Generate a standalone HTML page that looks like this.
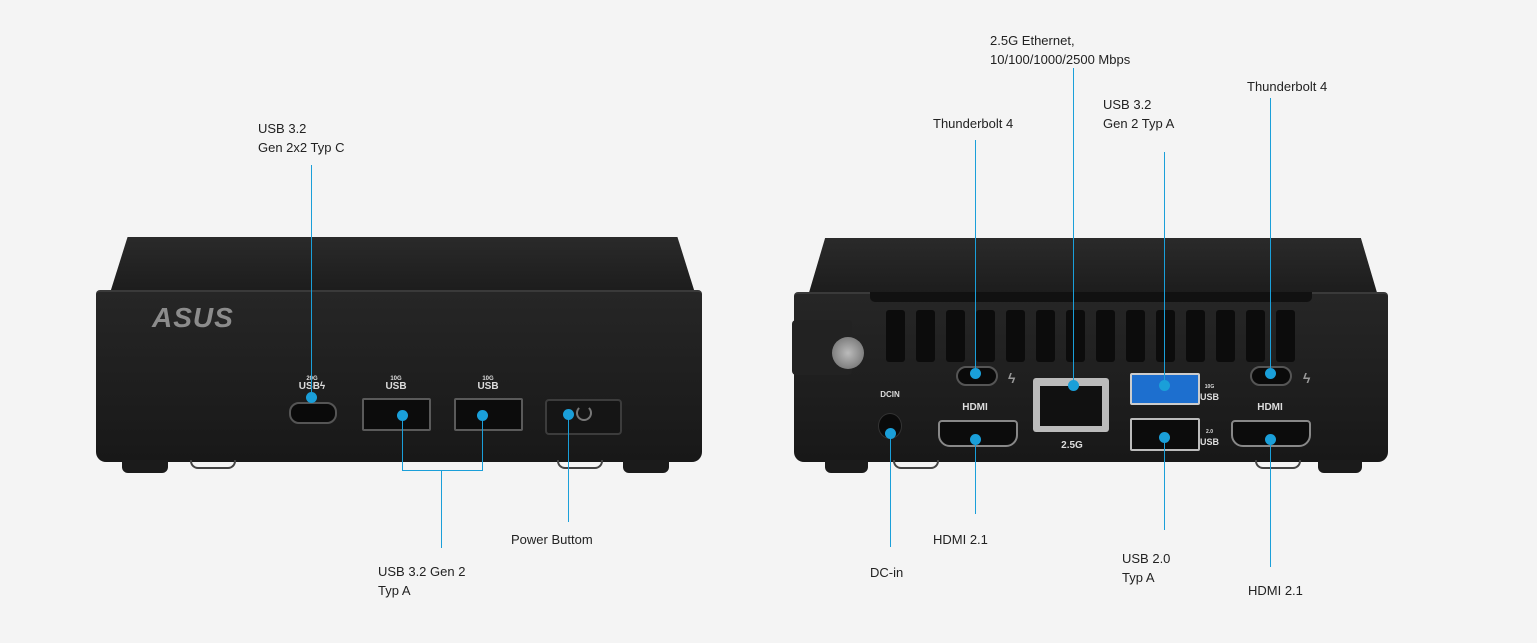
<!DOCTYPE html>
<html><head><meta charset="utf-8"><style>
body{margin:0;width:1537px;height:643px;background:#f4f4f4;position:relative;overflow:hidden;font-family:"Liberation Sans",sans-serif}
.a{position:absolute}
.t{position:absolute;font-size:13px;line-height:19px;color:#222}
.v{position:absolute;width:1px;background:#1a9fd9}
.h{position:absolute;height:1px;background:#1a9fd9}
.d{position:absolute;width:11px;height:11px;border-radius:50%;background:#1a9fd9;margin:-5px 0 0 -5px}
.top{position:absolute;background:linear-gradient(#2a2a2a,#1c1c1c);border-radius:14px 14px 0 0}
.face{position:absolute;background:linear-gradient(#262626,#181818);border-radius:4px 4px 10px 10px;border-top:2px solid #3a3a3a}
.foot{position:absolute;background:#1b1b1b;border-radius:0 0 6px 6px}
.loop{position:absolute;border:2px solid #444;border-top:none;border-radius:0 0 8px 8px}
.pc{position:absolute;border:2px solid #555;border-radius:10px;background:#0a0a0a}
.pa{position:absolute;border:2px solid #5a5a5a;background:#0c0c0c;border-radius:2px}
.lab{position:absolute;color:#ddd;font-weight:bold;font-size:10px;text-align:center}
.vent{position:absolute;width:19px;height:52px;background:#0c0c0c;border-radius:3px;top:310px}
</style></head><body>

<!-- FRONT DEVICE -->
<div class="top a" style="left:110px;top:237px;width:585px;height:56px;clip-path:polygon(3% 0,97% 0,100% 100%,0 100%)"></div>
<div class="face" style="left:96px;top:290px;width:606px;height:170px"></div>
<div class="foot" style="left:122px;top:460px;width:46px;height:13px"></div>
<div class="foot" style="left:623px;top:460px;width:46px;height:13px"></div>
<div class="loop" style="left:190px;top:460px;width:42px;height:7px"></div>
<div class="loop" style="left:557px;top:460px;width:42px;height:7px"></div>
<div class="a" style="left:152px;top:302px;font-size:28px;font-weight:bold;font-style:italic;color:#8c8c8c;letter-spacing:1px">ASUS</div>
<div class="lab" style="left:295px;top:376px;width:34px;font-size:6px;line-height:7px">20G<br><span style="font-size:10px">USBϟ</span></div>
<div class="pc" style="left:289px;top:402px;width:44px;height:18px"></div>
<div class="lab" style="left:378px;top:376px;width:36px;font-size:6px;line-height:7px">10G<br><span style="font-size:10px">USB</span></div>
<div class="lab" style="left:470px;top:376px;width:36px;font-size:6px;line-height:7px">10G<br><span style="font-size:10px">USB</span></div>
<div class="pa" style="left:362px;top:398px;width:65px;height:29px"></div>
<div class="pa" style="left:454px;top:398px;width:65px;height:29px"></div>
<div class="a" style="left:545px;top:399px;width:73px;height:32px;border:2px solid #3c3c3c;border-radius:4px;background:#151515"></div>
<div class="a" style="left:576px;top:405px;width:12px;height:12px;border:2px solid #777;border-radius:50%;border-top-color:transparent"></div>

<div class="t" style="left:258px;top:119px">USB 3.2<br>Gen 2x2 Typ C</div>
<div class="v" style="left:311px;top:165px;height:232px"></div><div class="d" style="left:311px;top:397px"></div>
<div class="d" style="left:402px;top:415px"></div><div class="d" style="left:482px;top:415px"></div>
<div class="v" style="left:402px;top:415px;height:56px"></div><div class="v" style="left:482px;top:415px;height:56px"></div>
<div class="h" style="left:402px;top:470px;width:81px"></div>
<div class="v" style="left:441px;top:470px;height:78px"></div>
<div class="t" style="left:378px;top:562px">USB 3.2 Gen 2<br>Typ A</div>
<div class="d" style="left:568px;top:414px"></div><div class="v" style="left:568px;top:414px;height:108px"></div>
<div class="t" style="left:511px;top:530px">Power Buttom</div>

<!-- BACK DEVICE -->
<div class="top a" style="left:808px;top:238px;width:570px;height:58px;clip-path:polygon(3% 0,97% 0,100% 100%,0 100%)"></div>
<div class="face" style="left:794px;top:292px;width:594px;height:168px"></div>
<div class="a" style="left:870px;top:292px;width:442px;height:10px;background:#111;border-radius:0 0 5px 5px"></div>
<div class="foot" style="left:825px;top:460px;width:43px;height:13px"></div>
<div class="foot" style="left:1318px;top:460px;width:44px;height:13px"></div>
<div class="loop" style="left:893px;top:460px;width:42px;height:7px"></div>
<div class="loop" style="left:1255px;top:460px;width:42px;height:7px"></div>
<div class="vent" style="left:886px"></div><div class="vent" style="left:916px"></div><div class="vent" style="left:946px"></div><div class="vent" style="left:976px"></div><div class="vent" style="left:1006px"></div><div class="vent" style="left:1036px"></div><div class="vent" style="left:1066px"></div><div class="vent" style="left:1096px"></div><div class="vent" style="left:1126px"></div><div class="vent" style="left:1156px"></div><div class="vent" style="left:1186px"></div><div class="vent" style="left:1216px"></div><div class="vent" style="left:1246px"></div><div class="vent" style="left:1276px"></div>
<div class="a" style="left:792px;top:320px;width:60px;height:55px;background:#222;border-radius:4px"></div>
<div class="a" style="left:832px;top:337px;width:32px;height:32px;background:radial-gradient(#bbb,#666);border-radius:50%"></div>
<div class="lab" style="left:876px;top:390px;width:28px;font-size:8px">DCIN</div>
<div class="a" style="left:878px;top:413px;width:22px;height:24px;background:#0a0a0a;border-radius:50%;border:1px solid #333"></div>
<div class="pc" style="left:956px;top:366px;width:38px;height:16px"></div>
<div class="lab" style="left:1008px;top:370px;font-size:14px;color:#999">ϟ</div>
<div class="pc" style="left:1250px;top:366px;width:38px;height:16px"></div>
<div class="lab" style="left:1303px;top:370px;font-size:14px;color:#999">ϟ</div>
<div class="a" style="left:1033px;top:378px;width:76px;height:54px;background:#bbb;border-radius:3px"></div>
<div class="a" style="left:1040px;top:386px;width:62px;height:40px;background:#111"></div>
<div class="lab" style="left:1055px;top:440px;width:34px;font-size:10px">2.5G</div>
<div class="pa" style="left:1130px;top:373px;width:66px;height:28px;background:#1d6fcf;border-color:#ccc"></div>
<div class="pa" style="left:1130px;top:418px;width:66px;height:29px;border-color:#bbb"></div>
<div class="lab" style="left:1200px;top:380px;font-size:9px;line-height:10px"><span style="font-size:5px">10G</span><br>USB</div>
<div class="lab" style="left:1200px;top:425px;font-size:9px;line-height:10px"><span style="font-size:5px">2.0</span><br>USB</div>
<div class="lab" style="left:955px;top:402px;width:40px">HDMI</div>
<div class="pa" style="left:938px;top:420px;width:76px;height:23px;border-radius:4px 4px 12px 12px;border-color:#888"></div>
<div class="lab" style="left:1250px;top:402px;width:40px">HDMI</div>
<div class="pa" style="left:1231px;top:420px;width:76px;height:23px;border-radius:4px 4px 12px 12px;border-color:#888"></div>

<div class="t" style="left:933px;top:114px">Thunderbolt 4</div>
<div class="v" style="left:975px;top:140px;height:233px"></div><div class="d" style="left:975px;top:373px"></div>
<div class="t" style="left:990px;top:31px">2.5G Ethernet,<br>10/100/1000/2500 Mbps</div>
<div class="v" style="left:1073px;top:68px;height:317px"></div><div class="d" style="left:1073px;top:385px"></div>
<div class="t" style="left:1103px;top:95px">USB 3.2<br>Gen 2 Typ A</div>
<div class="v" style="left:1164px;top:152px;height:233px"></div><div class="d" style="left:1164px;top:385px"></div>
<div class="t" style="left:1247px;top:77px">Thunderbolt 4</div>
<div class="v" style="left:1270px;top:98px;height:275px"></div><div class="d" style="left:1270px;top:373px"></div>
<div class="d" style="left:890px;top:433px"></div><div class="v" style="left:890px;top:433px;height:114px"></div>
<div class="t" style="left:870px;top:563px">DC-in</div>
<div class="d" style="left:975px;top:439px"></div><div class="v" style="left:975px;top:439px;height:75px"></div>
<div class="t" style="left:933px;top:530px">HDMI 2.1</div>
<div class="d" style="left:1164px;top:437px"></div><div class="v" style="left:1164px;top:437px;height:93px"></div>
<div class="t" style="left:1122px;top:549px">USB 2.0<br>Typ A</div>
<div class="d" style="left:1270px;top:439px"></div><div class="v" style="left:1270px;top:439px;height:128px"></div>
<div class="t" style="left:1248px;top:581px">HDMI 2.1</div>
</body></html>
